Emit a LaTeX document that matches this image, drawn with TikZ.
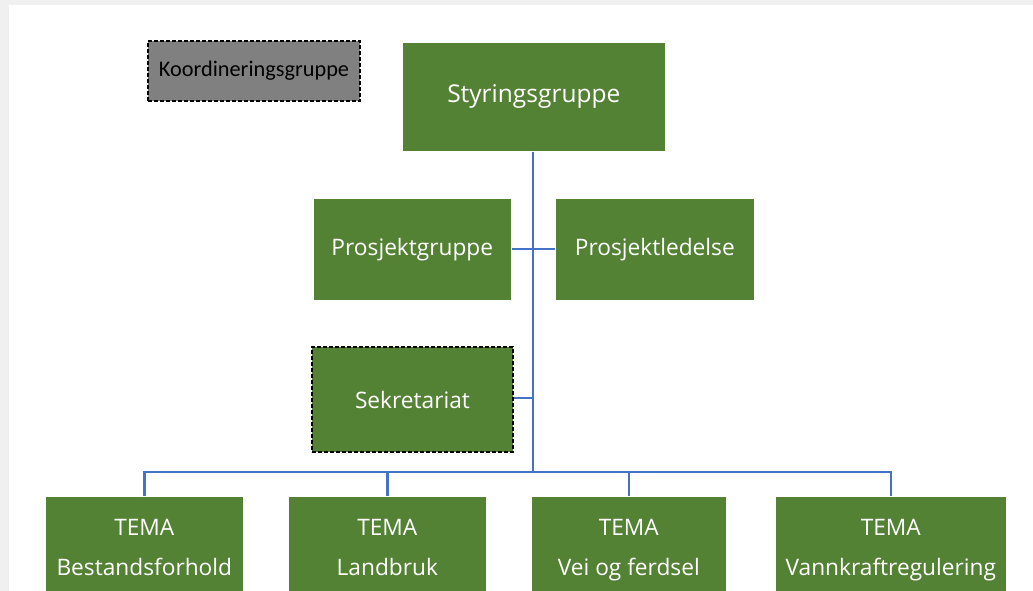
\documentclass[tikz,border=0pt]{standalone}
\usepackage{fontspec}
\setmainfont{Open Sans}
\newfontfamily\calfont{Carlito}
\definecolor{bggray}{HTML}{F0F0F0}
\definecolor{orggreen}{HTML}{548235}
\definecolor{linkblue}{HTML}{4472C4}
\definecolor{boxgray}{HTML}{808080}
\newcommand{\toprule}{\rule{0pt}{16pt}}
\newcommand{\botrule}{\rule[-6pt]{0pt}{6pt}}
\tikzset{
  gbox/.style={draw=white, line width=0.6pt, fill=orggreen, text=white, anchor=north west, inner sep=0pt, align=center, font=\fontsize{22.7}{40}\selectfont},
  tbox/.style={gbox, minimum height=108pt},
  dbox/.style={draw=black, dash pattern=on 4pt off 2pt, line width=2pt},
  link/.style={draw=linkblue, line width=2.4pt},
}
\begin{document}
\begin{tikzpicture}[x=1pt,y=-1pt]
\useasboundingbox (0,0) rectangle (1033,591);
\clip (0,0) rectangle (1033,591);
\fill[bggray] (0,0) rectangle (1033,591);
\fill[white] (9,5) rectangle (1033,591);
% top
\node[gbox, minimum width=263pt, minimum height=109pt, font=\fontsize{24.5}{28}\selectfont] (sg) at (402,42) {Styringsgruppe};
\node[anchor=north west, fill=boxgray, dbox, minimum width=212pt, minimum height=60pt, inner sep=0pt, font=\calfont\fontsize{22.3}{26}\selectfont] (kg) at (147,40) {Koordineringsgruppe};
\node[gbox, minimum width=198pt, minimum height=102pt] (pg) at (313,198) {Prosjektgruppe};
\node[gbox, minimum width=199pt, minimum height=102pt] (pl) at (555,198) {Prosjektledelse};
\node[gbox, dbox, minimum width=201pt, minimum height=105pt] (sk) at (311,346) {Sekretariat};
% tema
\node[tbox, minimum width=198pt] (t1) at (45,496) {\toprule TEMA\\Bestandsforhold\botrule};
\node[tbox, minimum width=198pt] (t2) at (288,496) {\toprule TEMA\\Landbruk\botrule};
\node[tbox, minimum width=195pt] (t3) at (531,496) {\toprule TEMA\\Vei og ferdsel\botrule};
\node[tbox, minimum width=231pt] (t4) at (775,496) {\toprule TEMA\\Vannkraftregulering\botrule};
% connectors
\coordinate (bus) at (533,472);
\coordinate (pj) at (533,249);
\coordinate (sj) at (533,398);
\draw[link] (sg.south -| bus) -- (bus);
\draw[link] (pg.east |- pj) -- (pl.west |- pj);
\draw[link] (sk.east |- sj) -- (sj);
\draw[link] (t1.north) -- (t1.north |- bus) -- (t4.north |- bus) -- (t4.north);
\draw[link] (t2.north |- bus) -- (t2.north);
\draw[link] (t3.north |- bus) -- (t3.north);
\end{tikzpicture}
\end{document}
